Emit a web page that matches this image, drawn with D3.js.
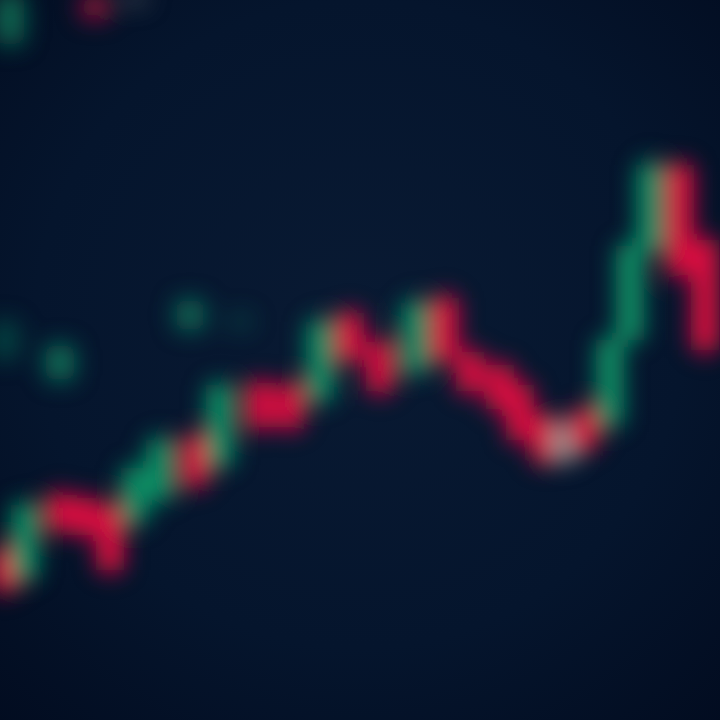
<!DOCTYPE html>
<html>
<head>
<meta charset="utf-8">
<script src="https://cdn.jsdelivr.net/npm/d3@7"></script>
<style>
html,body{margin:0;padding:0;background:#04122a;}
svg{display:block;}
</style>
</head>
<body>
<svg id="chart" width="720" height="720"></svg>
<script>
// ---- data ----
// main candle series: time index, open, close, high, low, direction
const mainTime  = [1, 5, 12, 17, 22, 27, 32, 39, 44, 52, 58, 64, 70, 76, 83, 89, 94, 100, 104, 109, 113, 117, 122, 126, 130, 136, 141];
const mainOpen  = [23.6, 19.7, 31.3, 30.8, 29.7, 27.5, 30.6, 39.3, 35.4, 46.9, 46.5, 44.4, 56.5, 52.5, 48.3, 58.6, 51.1, 49.3, 46.5, 42.2, 41.0, 43.1, 41.0, 52.8, 65.3, 77.1, 66.7];
const mainClose = [18.1, 29.9, 26.4, 25.7, 20.8, 35.0, 38.9, 32.6, 46.5, 40.6, 40.6, 55.3, 50.0, 45.6, 57.9, 50.0, 45.6, 43.1, 38.9, 35.8, 36.1, 37.8, 52.8, 65.9, 77.1, 61.8, 51.4];
const mainHigh  = [24.5, 31.0, 32.5, 31.8, 30.8, 36.0, 40.0, 40.3, 47.5, 47.8, 47.5, 56.5, 57.5, 53.5, 59.2, 59.8, 52.0, 50.2, 47.5, 43.0, 42.0, 44.0, 53.8, 67.0, 78.5, 78.0, 67.5];
const mainLow   = [17.0, 18.8, 25.5, 24.8, 19.8, 26.5, 29.8, 31.6, 34.5, 39.6, 39.6, 43.5, 49.0, 44.6, 47.3, 49.0, 44.6, 42.2, 37.9, 34.9, 35.2, 36.8, 40.0, 51.8, 64.3, 60.8, 50.3];
const mainKind  = ["down","up","down","down","down","up","up","down","up","down","down","up","down","down","up","down","down","down","down","down","flat","down","up","up","up","down","down"];

// faint out-of-focus candles behind
const bgTime  = [38, 48, 12, 1, 19, 27, 2];
const bgOpen  = [54.2, 54.2, 47.2, 50.0, 100.5, 101.0, 93.8];
const bgClose = [58.3, 56.5, 52.1, 55.5, 97.5, 99.3, 101.0];
const bgKind  = ["up","up","up","up","down","flat","up"];
const bgAlpha = [0.8, 0.3, 0.85, 0.4, 0.85, 0.45, 0.75];

const colors = {up:"#0a8c64", down:"#d80a40", flat:"#8c8a88"};

// ---- drawing ----
const W = 720, H = 720;
const svg = d3.select("#chart");
const x = d3.scaleLinear().domain([0, 144]).range([0, W]);
const y = d3.scaleLinear().domain([0, 100]).range([H, 0]);

const defs = svg.append("defs");
const rg = defs.append("radialGradient").attr("id","bg").attr("cx","50%").attr("cy","45%").attr("r","75%");
rg.append("stop").attr("offset","0%").attr("stop-color","#091a33");
rg.append("stop").attr("offset","60%").attr("stop-color","#05152d");
rg.append("stop").attr("offset","100%").attr("stop-color","#020c20");
defs.append("filter").attr("id","blurMain").attr("x","-50%").attr("y","-50%").attr("width","200%").attr("height","200%")
  .append("feGaussianBlur").attr("stdDeviation", 11);
defs.append("filter").attr("id","blurBg").attr("x","-50%").attr("y","-50%").attr("width","200%").attr("height","200%")
  .append("feGaussianBlur").attr("stdDeviation", 12);

svg.append("rect").attr("width", W).attr("height", H).attr("fill","url(#bg)");

const bw = 28;

const bgData = bgTime.map((t,i)=>({t, o:bgOpen[i], c:bgClose[i], k:bgKind[i], a:bgAlpha[i]}));
svg.append("g").attr("filter","url(#blurBg)")
  .selectAll("rect").data(bgData).join("rect")
  .attr("x", d => x(d.t) - bw/2)
  .attr("y", d => y(Math.max(d.o,d.c)))
  .attr("width", bw)
  .attr("height", d => Math.abs(y(d.o) - y(d.c)))
  .attr("rx", 8)
  .attr("fill", d => colors[d.k])
  .attr("opacity", d => d.a);

const data = mainTime.map((t,i)=>({t, o:mainOpen[i], c:mainClose[i], h:mainHigh[i], l:mainLow[i], k:mainKind[i]}));
const g = svg.append("g").attr("filter","url(#blurMain)");
const c = g.selectAll("g").data(data).join("g");
c.append("line")
  .attr("x1", d => x(d.t)).attr("x2", d => x(d.t))
  .attr("y1", d => y(d.h)).attr("y2", d => y(d.l))
  .attr("stroke", d => colors[d.k]).attr("stroke-width", 5);
c.append("rect")
  .attr("x", d => x(d.t) - bw/2)
  .attr("y", d => y(Math.max(d.o,d.c)))
  .attr("width", bw)
  .attr("height", d => Math.max(8, Math.abs(y(d.o) - y(d.c))))
  .attr("fill", d => colors[d.k]);
</script>
</body>
</html>
